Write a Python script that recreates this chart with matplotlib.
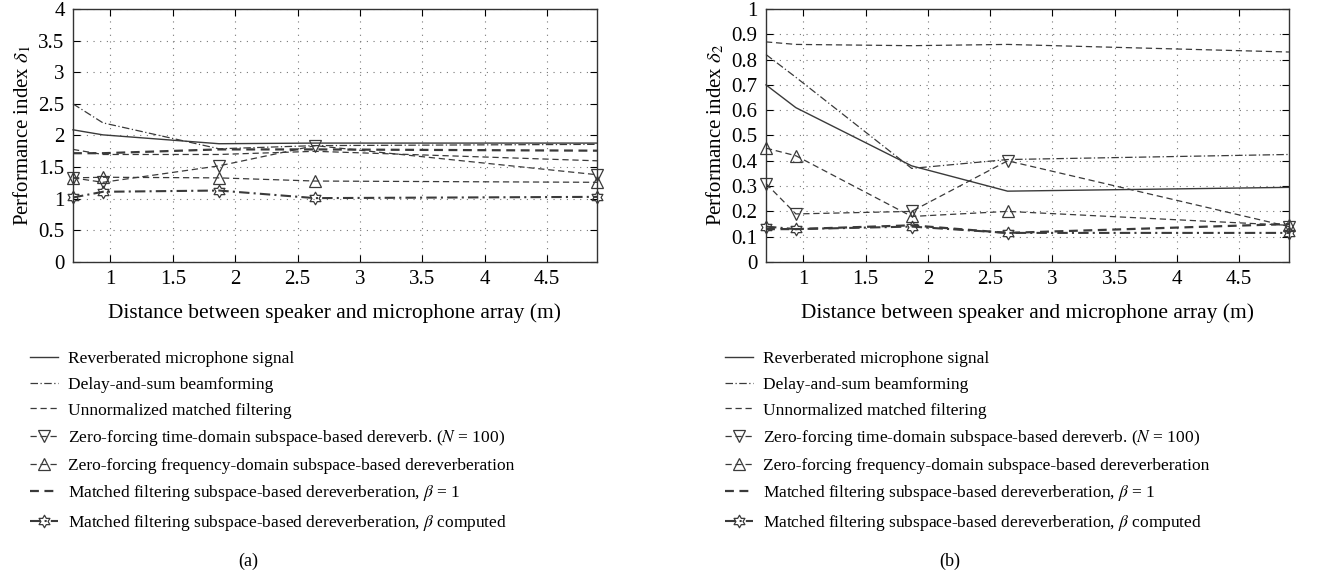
import numpy as np
import matplotlib.pyplot as plt
from matplotlib.path import Path

plt.rcParams['font.family'] = ['Liberation Serif', 'DejaVu Serif']
plt.rcParams['mathtext.fontset'] = 'stix'

# === Data ===
distances = [0.7, 0.94, 1.87, 2.64, 4.9]

labels = [
    "Reverberated microphone signal",
    "Delay-and-sum beamforming",
    "Unnormalized matched filtering",
    r"Zero-forcing time-domain subspace-based dereverb. ($N$ = 100)",
    "Zero-forcing frequency-domain subspace-based dereverberation",
    r"Matched filtering subspace-based dereverberation, $\beta$ = 1",
    r"Matched filtering subspace-based dereverberation, $\beta$ computed",
]

# performance index delta_1 (a)
d1_reverb = [2.09, 2.01, 1.87, 1.88, 1.88]
d1_delaysum = [2.50, 2.20, 1.79, 1.84, 1.86]
d1_unnorm = [1.78, 1.70, 1.70, 1.75, 1.60]
d1_zf_time = [1.33, 1.26, 1.52, 1.84, 1.38]
d1_zf_freq = [1.33, 1.34, 1.33, 1.28, 1.26]
d1_mf_beta1 = [1.72, 1.72, 1.78, 1.78, 1.76]
d1_mf_betac = [1.02, 1.11, 1.13, 1.01, 1.03]

# performance index delta_2 (b)
d2_reverb = [0.70, 0.61, 0.38, 0.28, 0.295]
d2_delaysum = [0.82, 0.73, 0.37, 0.405, 0.425]
d2_unnorm = [0.87, 0.86, 0.855, 0.86, 0.83]
d2_zf_time = [0.31, 0.19, 0.20, 0.40, 0.14]
d2_zf_freq = [0.45, 0.42, 0.18, 0.20, 0.145]
d2_mf_beta1 = [0.13, 0.13, 0.145, 0.115, 0.15]
d2_mf_betac = [0.14, 0.13, 0.14, 0.115, 0.115]

# six-pointed star marker outline
ang = np.pi / 2 + np.arange(12) * np.pi / 6
rad = np.where(np.arange(12) % 2 == 0, 1.0, 1 / np.sqrt(3))
verts = np.column_stack([rad * np.cos(ang), rad * np.sin(ang)])
verts = np.vstack([verts, verts[0]])
codes = [Path.MOVETO] + [Path.LINETO] * 11 + [Path.CLOSEPOLY]
hexagram = Path(verts, codes)

col = "#3a3a3a"
styles = [
    dict(ls="-", lw=1.0, marker=None),
    dict(ls=(0, (6, 2, 1, 2)), lw=0.9, marker=None),
    dict(ls=(0, (5, 3)), lw=0.9, marker=None),
    dict(ls=(0, (5, 3)), lw=0.9, marker="v", ms=8),
    dict(ls=(0, (5, 3)), lw=0.9, marker="^", ms=8),
    dict(ls=(0, (4, 2.5)), lw=1.6, marker=None),
    dict(ls=(0, (5, 2, 1, 2)), lw=1.5, marker=hexagram, ms=9),
]

fig = plt.figure(figsize=(13.44, 5.77), dpi=100)
W, H = 1344, 577


def draw(ax, series, ylim, yticks, ylabel, letter, leg_x, letter_x):
    handles = []
    for vals, st, lab in zip(series, styles, labels):
        h, = ax.plot(distances, vals, color=col, linestyle=st["ls"], linewidth=st["lw"],
                     marker=st["marker"], markersize=st.get("ms", 0),
                     markerfacecolor="none", markeredgecolor=col, markeredgewidth=0.9,
                     label=lab, clip_on=False)
        handles.append(h)
    ax.set_xlim(0.7, 4.9)
    ax.set_ylim(*ylim)
    ax.set_xticks([1, 1.5, 2, 2.5, 3, 3.5, 4, 4.5])
    ax.set_xticklabels(["1", "1.5", "2", "2.5", "3", "3.5", "4", "4.5"])
    ax.set_yticks(yticks)
    ax.set_yticklabels([f"{t:g}" for t in yticks])
    ax.grid(True, linestyle=(0, (1, 5)), color="#777777", linewidth=0.8)
    ax.tick_params(direction="in", top=True, right=True, labelsize=15, length=5, pad=6)
    for s in ax.spines.values():
        s.set_color("#333333")
        s.set_linewidth(1.0)
    ax.set_xlabel("Distance between speaker and microphone array (m)", fontsize=15.4, labelpad=10)
    ax.set_ylabel(ylabel, fontsize=15, labelpad=4)
    fig.legend(handles=handles, loc="upper left", bbox_to_anchor=(leg_x, 1 - 351 / H),
               frameon=False, fontsize=12.5, handlelength=1.6, handletextpad=0.6,
               labelspacing=0.55, numpoints=1, borderaxespad=0, borderpad=0)
    fig.text(letter_x / W, 1 - 561 / H, letter, ha="center", va="center", fontsize=13)


ax1 = fig.add_axes([73 / W, 1 - 262 / H, (597 - 73) / W, (262 - 9) / H])
ax2 = fig.add_axes([766 / W, 1 - 262 / H, (1289 - 766) / W, (262 - 9) / H])

draw(ax1, [d1_reverb, d1_delaysum, d1_unnorm, d1_zf_time, d1_zf_freq, d1_mf_beta1, d1_mf_betac],
     (0, 4), [0, 0.5, 1, 1.5, 2, 2.5, 3, 3.5, 4], r"Performance index $\delta_1$", "(a)", 30 / W, 248)
draw(ax2, [d2_reverb, d2_delaysum, d2_unnorm, d2_zf_time, d2_zf_freq, d2_mf_beta1, d2_mf_betac],
     (0, 1), [0, 0.1, 0.2, 0.3, 0.4, 0.5, 0.6, 0.7, 0.8, 0.9, 1], r"Performance index $\delta_2$", "(b)", 725 / W, 950)

fig.savefig("out.png", dpi=100)
